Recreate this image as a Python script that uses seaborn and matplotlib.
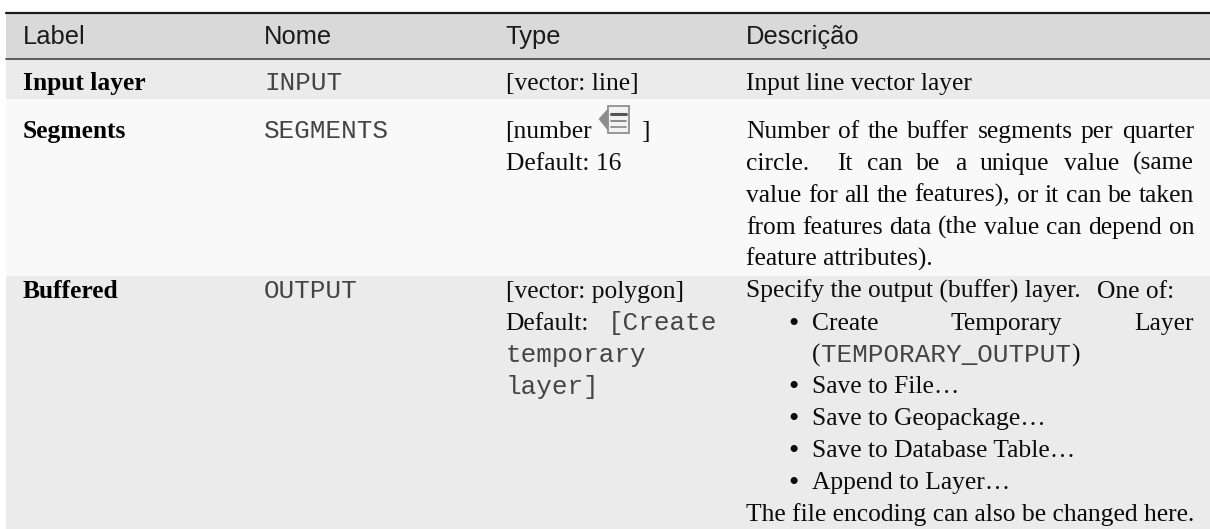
import numpy as np
import matplotlib
matplotlib.use("Agg")
import matplotlib.pyplot as plt
from matplotlib.patches import Polygon, Rectangle
from matplotlib.transforms import Affine2D
import seaborn as sns

W, H = 1210, 529
SERIF, SANS, MONO = "Liberation Serif", "Liberation Sans", "Liberation Mono"
PX = 25.5 * 0.72
MONO_PX = 26.0 * 0.72
MONO_C = "#444444"

headers = ["Label", "Nome", "Type", "Descrição"]
row_labels = ["Input layer", "Segments", "Buffered"]
row_names = ["INPUT", "SEGMENTS", "OUTPUT"]
row_shades = [217, 235, 249, 235]
row_heights = [47, 40, 177, 253]

sns.set_theme(style="white")
fig = plt.figure(figsize=(W / 100, H / 100), dpi=100, facecolor="white")
ax = fig.add_axes([6 / W, 0, (W - 6) / W, (H - 12) / H])
shade = np.repeat(np.array(row_shades, dtype=float), row_heights).reshape(-1, 1)
sns.heatmap(shade, ax=ax, cmap="gray", vmin=0, vmax=255, cbar=False,
            xticklabels=False, yticklabels=False)

px = Affine2D().scale(1, -1).translate(0, H)
fig.canvas.draw()
rend = fig.canvas.get_renderer()


def put(x, y, s, family=SERIF, size=PX, weight="normal", color="#0c0c0c"):
    return fig.text(x, y, s, family=family, fontsize=size, weight=weight, color=color,
                    transform=px, va="baseline", ha="left")


def width(s, family=SERIF, size=PX):
    t = fig.text(0, 0, s, family=family, fontsize=size)
    w = t.get_window_extent(rend).width
    t.remove()
    return w


def just(x0, x1, y, s):
    """Spread the words of s across x0..x1; a double space gives a double gap."""
    parts = s.split(" ")
    ws = [width(w) if w else 0 for w in parts]
    gap = (x1 - x0 - sum(ws)) / (len(parts) - 1)
    x = x0
    for w, wd in zip(parts, ws):
        if w:
            put(x, y, w)
        x += wd + gap


# rules
for y, lw, c in [(12.5, 2.2, "#1c1c1c"), (59, 1.8, "#505050")]:
    fig.add_artist(plt.Line2D([6 / W, 1], [1 - y / H] * 2, color=c, lw=lw * 0.72,
                              transform=fig.transFigure))

# header
col_x = [23, 264, 505.5, 746]
for x, h in zip(col_x, headers):
    put(x, 44, h, SANS, PX, color="#1a1a1a")

# first three columns
row_base = [90, 138, 298]
for y, lab, name in zip(row_base, row_labels, row_names):
    put(col_x[0], y, lab, SERIF, PX, "bold", "#000000")
    put(col_x[1], y, name, MONO, MONO_PX, color=MONO_C)

put(col_x[2], 90, "[vector: line]")
put(col_x[2], 138, "[number")
put(col_x[2], 170, "Default: 16")
put(641, 138, "]")
put(col_x[2], 298, "[vector: polygon]")
put(col_x[2], 330, "Default:")
put(608, 330, "[Create", MONO, MONO_PX, color=MONO_C)
put(col_x[2], 362, "temporary", MONO, MONO_PX, color=MONO_C)
put(col_x[2], 394, "layer]", MONO, MONO_PX, color=MONO_C)

# data-defined override icon
ix, iy = 599, 106
fig.add_artist(Polygon([(ix, iy + 13), (ix + 9, iy + 3), (ix + 9, iy + 24)],
                       closed=True, fc="#8c8c8c", ec="#8a8a8a", lw=0.5, transform=px))
fig.add_artist(Rectangle((ix + 9, iy), 21, 27, fc="#f2f2f2", ec="#8f8f8f", lw=1.3, transform=px))
for dy, c, lw in [(8, "#555555", 2.2), (15, "#777777", 1.2), (21, "#888888", 1.2)]:
    fig.add_artist(plt.Line2D([ix + 12, ix + 27], [iy + dy] * 2, color=c, lw=lw, transform=px))

# description column
R = 1194
DX = col_x[3]
put(DX, 90, "Input line vector layer")
just(DX, R, 138, "Number of the buffer segments per quarter")
just(DX, R, 170, "circle.  It can be a unique value (same")
just(DX, R, 202, "value for all the features), or it can be taken")
just(DX, R, 234, "from features data (the value can depend on")
put(DX, 266, "feature attributes).")
put(DX, 298, "Specify the output (buffer) layer.")
put(1174.5 - width("One of:"), 298, "One of:")

BX, TX = 788.5, 812
just(TX, R, 330, "Create Temporary Layer")
put(TX, 362, "(")
put(TX + 9, 362, "TEMPORARY_OUTPUT", MONO, MONO_PX, color=MONO_C)
put(TX + 9 + width("TEMPORARY_OUTPUT", MONO, MONO_PX), 362, ")")
list_items = ["Save to File…", "Save to Geopackage…", "Save to Database Table…", "Append to Layer…"]
list_y = [393, 425, 457, 489]
for y in [330] + list_y:
    put(BX, y + 2, "•", size=PX * 1.15)
for y, item in zip(list_y, list_items):
    put(TX, y, item)
put(DX, 521, "The file encoding can also be changed here.")

fig.savefig("out.png", dpi=100)
